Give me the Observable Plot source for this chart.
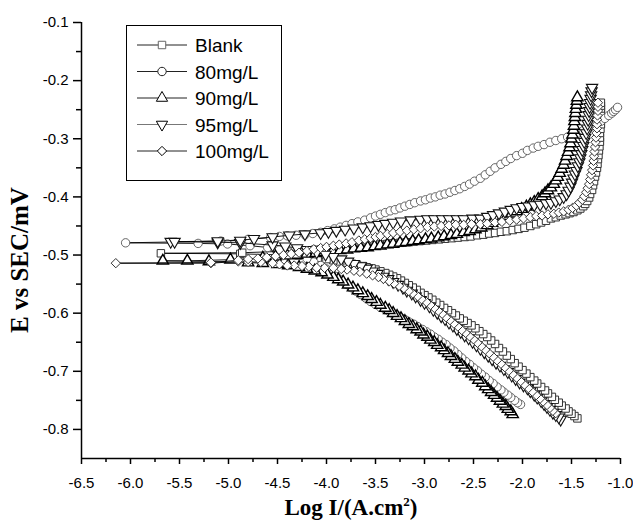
<!DOCTYPE html>
<html>
<head>
<meta charset="utf-8">
<script src="https://cdn.jsdelivr.net/npm/d3@7"></script>
<script src="https://cdn.jsdelivr.net/npm/@observablehq/plot@0.6"></script>
<style>
  html, body { margin: 0; padding: 0; background: #fff; }
  #chart { width: 633px; height: 522px; }
</style>
</head>
<body>
<div id="chart"></div>
<script>
// ---- Tick values ----
const xMajor = [-6.5, -6.0, -5.5, -5.0, -4.5, -4.0, -3.5, -3.0, -2.5, -2.0, -1.5, -1.0];
const xMinor = [-6.25, -5.75, -5.25, -4.75, -4.25, -3.75, -3.25, -2.75, -2.25, -1.75, -1.25];
const yMajor = [-0.1, -0.2, -0.3, -0.4, -0.5, -0.6, -0.7, -0.8];
const yMinor = [-0.15, -0.25, -0.35, -0.45, -0.55, -0.65, -0.75];

const seriesNames = ["Blank", "80mg/L", "90mg/L", "95mg/L", "100mg/L"];

// ---- series values: [log I, E] in scan order (cathodic end -> Ecorr -> anodic end) ----
const blankPoints = [
[-1.44,-0.781],[-1.47,-0.777],[-1.50,-0.773],[-1.53,-0.769],[-1.56,-0.764],[-1.60,-0.759],[-1.63,-0.754],[-1.67,-0.749],[-1.70,-0.744],[-1.74,-0.738],
[-1.77,-0.733],[-1.81,-0.727],[-1.85,-0.721],[-1.88,-0.716],[-1.92,-0.710],[-1.96,-0.704],[-2.00,-0.698],[-2.04,-0.692],[-2.08,-0.686],[-2.12,-0.679],
[-2.16,-0.673],[-2.20,-0.666],[-2.24,-0.660],[-2.28,-0.653],[-2.32,-0.647],[-2.36,-0.641],[-2.40,-0.636],[-2.44,-0.631],[-2.48,-0.626],[-2.52,-0.621],
[-2.56,-0.617],[-2.60,-0.613],[-2.64,-0.609],[-2.68,-0.604],[-2.72,-0.600],[-2.76,-0.595],[-2.80,-0.591],[-2.84,-0.586],[-2.88,-0.582],[-2.92,-0.577],
[-2.96,-0.573],[-3.00,-0.569],[-3.04,-0.565],[-3.08,-0.560],[-3.12,-0.556],[-3.16,-0.552],[-3.20,-0.548],[-3.24,-0.544],[-3.28,-0.540],[-3.32,-0.537],
[-3.36,-0.534],[-3.40,-0.531],[-3.45,-0.528],[-3.50,-0.525],[-3.54,-0.523],[-3.59,-0.521],[-3.63,-0.519],[-3.69,-0.517],[-3.74,-0.515],[-3.80,-0.513],
[-3.86,-0.511],[-3.93,-0.509],[-4.00,-0.507],[-4.09,-0.505],[-4.18,-0.503],[-4.29,-0.501],[-4.40,-0.500],[-4.88,-0.498],[-5.69,-0.497],
[-4.86,-0.496],[-4.50,-0.494],[-4.25,-0.492],[-4.12,-0.491],[-4.05,-0.490],[-3.96,-0.489],[-3.88,-0.488],[-3.80,-0.487],[-3.72,-0.486],[-3.65,-0.485],
[-3.58,-0.484],[-3.51,-0.483],[-3.45,-0.482],[-3.38,-0.481],[-3.32,-0.480],[-3.25,-0.479],[-3.18,-0.478],[-3.11,-0.477],[-3.05,-0.476],[-2.98,-0.475],
[-2.92,-0.474],[-2.85,-0.473],[-2.79,-0.472],[-2.72,-0.471],[-2.66,-0.470],[-2.59,-0.469],[-2.53,-0.468],[-2.46,-0.466],[-2.40,-0.465],[-2.34,-0.463],
[-2.28,-0.462],[-2.22,-0.460],[-2.16,-0.459],[-2.10,-0.457],[-2.04,-0.455],[-1.98,-0.453],[-1.92,-0.450],[-1.86,-0.447],[-1.81,-0.444],[-1.76,-0.441],
[-1.71,-0.437],[-1.66,-0.435],[-1.61,-0.432],[-1.56,-0.430],[-1.52,-0.428],[-1.48,-0.426],[-1.44,-0.423],[-1.41,-0.420],[-1.38,-0.416],[-1.36,-0.412],
[-1.34,-0.407],[-1.32,-0.401],[-1.31,-0.395],[-1.29,-0.388],[-1.28,-0.380],[-1.27,-0.373],[-1.26,-0.365],[-1.25,-0.358],[-1.24,-0.350],[-1.235,-0.343],
[-1.23,-0.335],[-1.225,-0.328],[-1.22,-0.320],[-1.215,-0.313],[-1.21,-0.305],[-1.21,-0.298],[-1.21,-0.290],[-1.205,-0.283],[-1.20,-0.275],[-1.20,-0.268],
[-1.20,-0.260],[-1.20,-0.254],[-1.20,-0.248],[-1.20,-0.243],[-1.20,-0.238]
];

const mg80Points = [
[-2.02,-0.757],[-2.05,-0.754],[-2.08,-0.750],[-2.12,-0.745],[-2.15,-0.741],[-2.19,-0.736],[-2.22,-0.732],[-2.26,-0.727],[-2.30,-0.721],[-2.34,-0.716],
[-2.38,-0.710],[-2.42,-0.705],[-2.46,-0.699],[-2.50,-0.694],[-2.54,-0.688],[-2.58,-0.683],[-2.62,-0.677],[-2.66,-0.671],[-2.70,-0.665],[-2.74,-0.660],
[-2.78,-0.654],[-2.82,-0.650],[-2.86,-0.645],[-2.90,-0.641],[-2.94,-0.636],[-2.98,-0.632],[-3.02,-0.628],[-3.07,-0.623],[-3.11,-0.619],[-3.16,-0.615],
[-3.20,-0.611],[-3.24,-0.608],[-3.28,-0.604],[-3.32,-0.601],[-3.36,-0.597],[-3.40,-0.594],[-3.45,-0.590],[-3.50,-0.585],[-3.55,-0.580],[-3.60,-0.574],
[-3.65,-0.568],[-3.70,-0.562],[-3.75,-0.556],[-3.80,-0.550],[-3.85,-0.543],[-3.90,-0.537],[-3.95,-0.530],[-4.00,-0.524],[-4.06,-0.518],[-4.13,-0.512],
[-4.20,-0.506],[-4.29,-0.500],[-4.38,-0.495],[-4.48,-0.491],[-4.60,-0.487],[-4.78,-0.484],[-5.01,-0.481],[-5.31,-0.480],[-6.05,-0.479],
[-5.08,-0.476],[-4.80,-0.473],[-4.57,-0.470],[-4.48,-0.468],[-4.40,-0.467],[-4.31,-0.466],[-4.22,-0.465],[-4.14,-0.463],[-4.06,-0.461],[-3.99,-0.458],
[-3.92,-0.455],[-3.86,-0.452],[-3.80,-0.449],[-3.74,-0.446],[-3.68,-0.443],[-3.61,-0.440],[-3.55,-0.436],[-3.50,-0.433],[-3.45,-0.430],[-3.40,-0.427],
[-3.35,-0.424],[-3.30,-0.422],[-3.25,-0.419],[-3.20,-0.416],[-3.15,-0.413],[-3.10,-0.410],[-3.04,-0.407],[-2.99,-0.405],[-2.94,-0.402],[-2.89,-0.400],
[-2.84,-0.397],[-2.79,-0.395],[-2.74,-0.392],[-2.69,-0.389],[-2.64,-0.386],[-2.59,-0.382],[-2.54,-0.378],[-2.49,-0.373],[-2.43,-0.368],[-2.38,-0.362],
[-2.33,-0.356],[-2.28,-0.350],[-2.22,-0.344],[-2.17,-0.339],[-2.12,-0.334],[-2.06,-0.329],[-2.00,-0.325],[-1.95,-0.320],[-1.89,-0.316],[-1.84,-0.313],
[-1.78,-0.310],[-1.72,-0.306],[-1.66,-0.303],[-1.60,-0.300],[-1.54,-0.297],[-1.49,-0.294],[-1.43,-0.290],[-1.38,-0.286],[-1.32,-0.281],[-1.26,-0.276],
[-1.20,-0.270],[-1.16,-0.265],[-1.12,-0.260],[-1.09,-0.256],[-1.07,-0.253],[-1.05,-0.250],[-1.03,-0.246]
];

const mg90Points = [
[-2.10,-0.774],[-2.12,-0.769],[-2.15,-0.765],[-2.17,-0.760],[-2.20,-0.756],[-2.23,-0.751],[-2.26,-0.746],[-2.29,-0.741],[-2.32,-0.736],[-2.35,-0.731],
[-2.38,-0.726],[-2.41,-0.720],[-2.45,-0.715],[-2.48,-0.709],[-2.52,-0.704],[-2.55,-0.699],[-2.59,-0.694],[-2.62,-0.689],[-2.66,-0.684],[-2.69,-0.679],
[-2.73,-0.674],[-2.76,-0.669],[-2.80,-0.664],[-2.83,-0.659],[-2.87,-0.655],[-2.90,-0.650],[-2.94,-0.646],[-2.97,-0.641],[-3.01,-0.637],[-3.04,-0.632],
[-3.08,-0.628],[-3.12,-0.623],[-3.16,-0.619],[-3.20,-0.614],[-3.24,-0.609],[-3.28,-0.605],[-3.32,-0.600],[-3.36,-0.595],[-3.40,-0.591],[-3.45,-0.586],
[-3.49,-0.581],[-3.54,-0.576],[-3.58,-0.571],[-3.63,-0.566],[-3.68,-0.561],[-3.73,-0.556],[-3.78,-0.551],[-3.83,-0.546],[-3.88,-0.542],[-3.93,-0.538],
[-3.99,-0.534],[-4.05,-0.530],[-4.12,-0.527],[-4.20,-0.524],[-4.28,-0.521],[-4.39,-0.518],[-4.50,-0.516],[-4.65,-0.514],[-4.80,-0.513],[-5.20,-0.511],
[-5.67,-0.510],
[-5.42,-0.510],[-4.98,-0.508],[-4.65,-0.505],[-4.52,-0.503],[-4.40,-0.501],[-4.30,-0.500],[-4.20,-0.498],[-4.11,-0.497],[-4.02,-0.495],[-3.94,-0.494],
[-3.86,-0.492],[-3.79,-0.491],[-3.72,-0.489],[-3.65,-0.488],[-3.58,-0.487],[-3.51,-0.485],[-3.45,-0.484],[-3.38,-0.482],[-3.32,-0.481],[-3.25,-0.479],
[-3.19,-0.478],[-3.12,-0.476],[-3.06,-0.475],[-2.99,-0.473],[-2.93,-0.472],[-2.86,-0.470],[-2.80,-0.468],[-2.73,-0.466],[-2.67,-0.464],[-2.60,-0.461],
[-2.54,-0.459],[-2.48,-0.456],[-2.42,-0.453],[-2.36,-0.449],[-2.31,-0.445],[-2.26,-0.441],[-2.21,-0.437],[-2.16,-0.433],[-2.11,-0.429],[-2.06,-0.425],
[-2.01,-0.421],[-1.96,-0.417],[-1.92,-0.413],[-1.88,-0.409],[-1.84,-0.404],[-1.80,-0.399],[-1.77,-0.394],[-1.74,-0.389],[-1.71,-0.384],[-1.68,-0.378],
[-1.66,-0.372],[-1.64,-0.366],[-1.62,-0.359],[-1.60,-0.352],[-1.58,-0.345],[-1.565,-0.338],[-1.55,-0.330],[-1.535,-0.323],[-1.52,-0.315],[-1.51,-0.308],
[-1.50,-0.300],[-1.49,-0.293],[-1.48,-0.285],[-1.475,-0.278],[-1.47,-0.270],[-1.465,-0.263],[-1.46,-0.256],[-1.455,-0.249],[-1.45,-0.242],[-1.445,-0.235],
[-1.44,-0.229]
];

const mg95Points = [
[-1.61,-0.783],[-1.63,-0.779],[-1.66,-0.775],[-1.69,-0.771],[-1.72,-0.766],[-1.75,-0.761],[-1.78,-0.756],[-1.81,-0.751],[-1.85,-0.745],[-1.88,-0.740],
[-1.92,-0.734],[-1.95,-0.729],[-1.99,-0.724],[-2.03,-0.719],[-2.07,-0.713],[-2.11,-0.707],[-2.15,-0.701],[-2.19,-0.696],[-2.23,-0.690],[-2.27,-0.685],
[-2.31,-0.679],[-2.35,-0.673],[-2.39,-0.667],[-2.43,-0.661],[-2.47,-0.655],[-2.51,-0.649],[-2.55,-0.643],[-2.59,-0.638],[-2.63,-0.632],[-2.67,-0.627],
[-2.71,-0.621],[-2.75,-0.616],[-2.79,-0.610],[-2.83,-0.605],[-2.87,-0.599],[-2.91,-0.594],[-2.95,-0.588],[-3.00,-0.582],[-3.04,-0.577],[-3.09,-0.571],
[-3.13,-0.566],[-3.18,-0.561],[-3.22,-0.556],[-3.27,-0.551],[-3.32,-0.546],[-3.37,-0.541],[-3.42,-0.537],[-3.48,-0.532],[-3.53,-0.528],[-3.59,-0.523],
[-3.65,-0.519],[-3.72,-0.515],[-3.78,-0.511],[-3.85,-0.507],[-3.93,-0.503],[-4.01,-0.499],[-4.10,-0.495],[-4.20,-0.491],[-4.30,-0.488],[-4.42,-0.485],
[-4.55,-0.483],[-4.88,-0.479],[-5.11,-0.478],[-5.59,-0.477],
[-5.55,-0.477],[-5.11,-0.476],[-4.88,-0.475],[-4.74,-0.472],[-4.55,-0.469],[-4.38,-0.466],[-4.22,-0.464],[-4.06,-0.462],[-3.98,-0.460],[-3.90,-0.458],
[-3.81,-0.456],[-3.72,-0.454],[-3.63,-0.452],[-3.55,-0.450],[-3.47,-0.448],[-3.40,-0.446],[-3.32,-0.444],[-3.24,-0.442],[-3.14,-0.440],[-3.04,-0.439],
[-2.97,-0.438],[-2.90,-0.438],[-2.82,-0.438],[-2.75,-0.438],[-2.67,-0.438],[-2.60,-0.438],[-2.51,-0.437],[-2.43,-0.437],[-2.36,-0.434],[-2.30,-0.431],
[-2.24,-0.428],[-2.18,-0.425],[-2.12,-0.422],[-2.06,-0.419],[-2.00,-0.417],[-1.94,-0.416],[-1.88,-0.414],[-1.82,-0.413],[-1.76,-0.411],[-1.71,-0.410],
[-1.66,-0.407],[-1.62,-0.404],[-1.58,-0.400],[-1.55,-0.395],[-1.53,-0.389],[-1.51,-0.382],[-1.495,-0.375],[-1.48,-0.368],[-1.465,-0.361],[-1.45,-0.355],
[-1.435,-0.347],[-1.42,-0.340],[-1.41,-0.333],[-1.40,-0.326],[-1.39,-0.319],[-1.38,-0.312],[-1.37,-0.305],[-1.36,-0.298],[-1.35,-0.290],[-1.34,-0.282],
[-1.335,-0.274],[-1.33,-0.267],[-1.325,-0.259],[-1.32,-0.252],[-1.315,-0.245],[-1.31,-0.238],[-1.305,-0.231],[-1.30,-0.225],[-1.295,-0.218],[-1.29,-0.212]
];

const mg100Points = [
[-1.66,-0.772],[-1.69,-0.768],[-1.72,-0.763],[-1.75,-0.758],[-1.79,-0.752],[-1.82,-0.747],[-1.86,-0.741],[-1.90,-0.735],[-1.94,-0.729],[-1.98,-0.723],
[-2.02,-0.717],[-2.06,-0.711],[-2.10,-0.705],[-2.14,-0.699],[-2.18,-0.693],[-2.22,-0.687],[-2.26,-0.681],[-2.30,-0.675],[-2.34,-0.669],[-2.38,-0.663],
[-2.42,-0.657],[-2.46,-0.651],[-2.50,-0.645],[-2.54,-0.640],[-2.58,-0.634],[-2.62,-0.629],[-2.66,-0.623],[-2.70,-0.618],[-2.74,-0.612],[-2.78,-0.607],
[-2.82,-0.601],[-2.86,-0.596],[-2.90,-0.591],[-2.94,-0.586],[-2.98,-0.581],[-3.03,-0.576],[-3.07,-0.571],[-3.12,-0.566],[-3.16,-0.562],[-3.21,-0.557],
[-3.26,-0.553],[-3.31,-0.549],[-3.36,-0.545],[-3.42,-0.541],[-3.47,-0.538],[-3.53,-0.535],[-3.59,-0.532],[-3.66,-0.529],[-3.72,-0.527],[-3.79,-0.525],
[-3.85,-0.524],[-3.93,-0.522],[-4.02,-0.522],[-4.10,-0.522],[-4.18,-0.520],[-4.25,-0.519],[-4.33,-0.518],[-4.40,-0.518],[-4.48,-0.516],[-4.55,-0.514],
[-4.67,-0.512],[-4.80,-0.512],[-4.90,-0.511],[-5.18,-0.514],[-6.15,-0.514],
[-5.18,-0.513],[-4.90,-0.509],[-4.80,-0.507],[-4.70,-0.506],[-4.61,-0.504],[-4.52,-0.502],[-4.44,-0.500],[-4.36,-0.498],[-4.28,-0.496],[-4.20,-0.493],
[-4.13,-0.490],[-4.06,-0.488],[-4.00,-0.486],[-3.93,-0.484],[-3.87,-0.482],[-3.80,-0.480],[-3.74,-0.478],[-3.67,-0.475],[-3.61,-0.473],[-3.55,-0.471],
[-3.50,-0.469],[-3.45,-0.467],[-3.38,-0.464],[-3.32,-0.462],[-3.25,-0.460],[-3.18,-0.458],[-3.11,-0.456],[-3.04,-0.454],[-2.97,-0.452],[-2.90,-0.451],
[-2.83,-0.450],[-2.75,-0.449],[-2.68,-0.448],[-2.60,-0.448],[-2.52,-0.447],[-2.43,-0.447],[-2.36,-0.446],[-2.28,-0.444],[-2.21,-0.443],[-2.13,-0.441],
[-2.06,-0.439],[-1.99,-0.437],[-1.92,-0.435],[-1.86,-0.433],[-1.80,-0.432],[-1.74,-0.430],[-1.68,-0.429],[-1.63,-0.427],[-1.58,-0.425],[-1.53,-0.422],
[-1.49,-0.419],[-1.45,-0.415],[-1.42,-0.410],[-1.39,-0.405],[-1.37,-0.399],[-1.35,-0.392],[-1.335,-0.385],[-1.32,-0.378],[-1.31,-0.370],[-1.30,-0.362],
[-1.29,-0.354],[-1.28,-0.346],[-1.275,-0.338],[-1.27,-0.330],[-1.265,-0.322],[-1.26,-0.314],[-1.255,-0.306],[-1.25,-0.298],[-1.245,-0.290],[-1.24,-0.282],
[-1.24,-0.275],[-1.24,-0.267],[-1.235,-0.260],[-1.23,-0.252],[-1.23,-0.245],[-1.23,-0.238]
];

// ---- symbols ----
const sqrt3 = Math.sqrt(3);
const triangleDown = {
  draw(context, size) {
    const y = -Math.sqrt(size / (sqrt3 * 3));
    context.moveTo(0, -y * 2);
    context.lineTo(-sqrt3 * y, y);
    context.lineTo(sqrt3 * y, y);
    context.closePath();
  }
};
const seriesSymbols = ["square", "circle", "triangle", triangleDown, "diamond2"];
const seriesStroke = ["#333", "#555", "#000", "#111", "#333"];
const seriesStrokeWidth = [1.0, 0.9, 1.4, 1.1, 1.0];
const allPoints = [blankPoints, mg80Points, mg90Points, mg95Points, mg100Points];

const R = 4.2;

const seriesRows = seriesNames.map((name, i) =>
  allPoints[i].map(([v, e]) => ({series: name, logI: v, E: e}))
);

const marks = [];
seriesRows.forEach((rows, i) => {
  marks.push(Plot.line(rows, {x: "logI", y: "E", stroke: "#000", strokeWidth: 0.9}));
  marks.push(Plot.dot(rows, {x: "logI", y: "E", symbol: seriesSymbols[i], r: R, fill: "white", stroke: seriesStroke[i], strokeWidth: seriesStrokeWidth[i]}));
});

const plot = Plot.plot({
  width: 633,
  height: 522,
  marginLeft: 81,
  marginRight: 13,
  marginTop: 22,
  marginBottom: 64,
  style: {fontFamily: "'Liberation Sans', Arial, sans-serif", fontSize: "15px", color: "#000", background: "white"},
  x: {domain: [-6.5, -1.0]},
  y: {domain: [-0.85, -0.1]},
  marks: [
    ...marks,
    Plot.axisX({ticks: xMajor, tickSize: 6, tickPadding: 13, tickFormat: d => d.toFixed(1), label: null, stroke: "#000", strokeWidth: 1.5, fontSize: 15}),
    Plot.axisX({ticks: xMinor, tickSize: 4, tickFormat: () => "", label: null, stroke: "#000", strokeWidth: 1.5}),
    Plot.axisY({ticks: yMajor, tickSize: 8, tickPadding: 5, tickFormat: d => d.toFixed(1), label: null, stroke: "#000", strokeWidth: 1.5, fontSize: 15}),
    Plot.axisY({ticks: yMinor, tickSize: 5, tickFormat: () => "", label: null, stroke: "#000", strokeWidth: 1.5}),
    Plot.ruleX([-6.5], {stroke: "#000", strokeWidth: 1.5}),
    Plot.ruleY([-0.85], {stroke: "#000", strokeWidth: 1.5})
  ]
});

document.getElementById("chart").appendChild(plot);

// ---- titles and legend ----
const svg = d3.select(plot);

const xt = svg.append("text")
  .attr("x", 351).attr("y", 515)
  .attr("text-anchor", "middle")
  .attr("font-family", "'Liberation Serif', 'Times New Roman', serif")
  .attr("font-weight", "bold")
  .attr("font-size", 23)
  .attr("fill", "#000");
xt.append("tspan").text("Log I/(A.cm");
xt.append("tspan").attr("dy", -9).attr("font-size", 13).text("2");
xt.append("tspan").attr("dy", 9).text(")");

svg.append("text")
  .attr("transform", "translate(28,260) rotate(-90)")
  .attr("text-anchor", "middle")
  .attr("font-family", "'Liberation Serif', 'Times New Roman', serif")
  .attr("font-weight", "bold")
  .attr("font-size", 25)
  .attr("fill", "#000")
  .text("E vs SEC/mV");

const lg = svg.append("g");
lg.append("rect")
  .attr("x", 126.5).attr("y", 25.5).attr("width", 155).attr("height", 155)
  .attr("fill", "white").attr("stroke", "#000").attr("stroke-width", 1);

const legendSymbols = [d3.symbolSquare, d3.symbolCircle, d3.symbolTriangle, triangleDown, d3.symbolDiamond2];
const legendStroke = ["#666", "#222", "#000", "#000", "#000"];
seriesNames.forEach((name, i) => {
  const y = 45 + i * 26.5;
  lg.append("line").attr("x1", 137).attr("x2", 187).attr("y1", y).attr("y2", y)
    .attr("stroke", i === 3 ? "#777" : "#222").attr("stroke-width", 1);
  lg.append("path")
    .attr("transform", `translate(162,${y})`)
    .attr("d", d3.symbol().type(legendSymbols[i]).size(Math.PI * R * R)())
    .attr("fill", "white").attr("stroke", legendStroke[i]).attr("stroke-width", 1);
  lg.append("text")
    .attr("x", 195).attr("y", y + 7)
    .attr("text-anchor", "start")
    .attr("font-family", "'Liberation Sans', Arial, sans-serif")
    .attr("font-size", 19)
    .attr("fill", "#000")
    .text(name);
});
</script>
</body>
</html>
